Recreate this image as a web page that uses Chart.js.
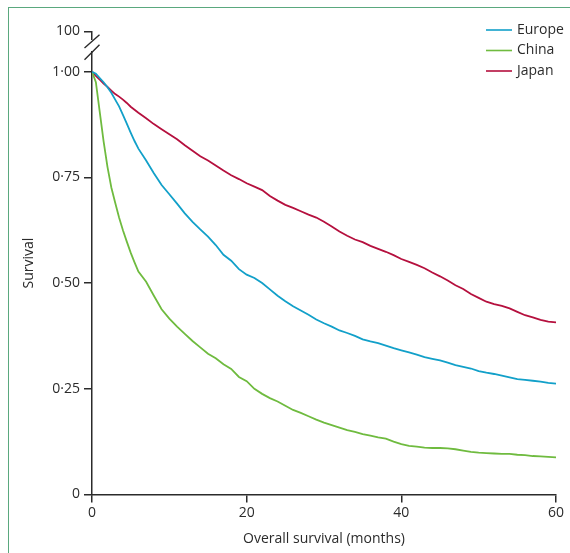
<!DOCTYPE html>
<html>
<head>
<meta charset="utf-8">
<script src="https://cdn.jsdelivr.net/npm/chart.js@4/dist/chart.umd.min.js"></script>
<style>
  html, body { margin: 0; padding: 0; background: #fff; }
  #wrap { position: relative; width: 570px; height: 553px; overflow: hidden; }
  #frameTop { position: absolute; left: 8px; top: 7px; width: 562px; height: 1px; background: #5aa87e; }
  #frameLeft { position: absolute; left: 8px; top: 7px; width: 1px; height: 546px; background: #5aa87e; }
  canvas { position: absolute; left: 0; top: 0; }
</style>
</head>
<body>
<div id="wrap">
  <canvas id="c" width="570" height="553"></canvas>
  <div id="frameTop"></div>
  <div id="frameLeft"></div>
</div>
<script>
// ---- data ----
const months = [0, 0.5, 1, 1.5, 2, 2.5, 3, 3.5, 4, 4.5, 5, 5.5, 6,
  7, 8, 9, 10, 11, 12, 13, 14, 15, 16, 17, 18, 19, 20,
  21, 22, 23, 24, 25, 26, 27, 28, 29, 30, 31, 32, 33, 34, 35, 36, 37, 38, 39, 40,
  41, 42, 43, 44, 45, 46, 47, 48, 49, 50, 51, 52, 53, 54, 55, 56, 57, 58, 59, 60];

const europe = [1, 0.995, 0.985, 0.975, 0.963, 0.95, 0.934, 0.918, 0.898, 0.877, 0.856, 0.836, 0.818,
  0.79, 0.76, 0.732, 0.71, 0.688, 0.665, 0.645, 0.627, 0.61, 0.59, 0.567, 0.553, 0.533, 0.52,
  0.512, 0.5, 0.485, 0.47, 0.457, 0.445, 0.435, 0.425, 0.414, 0.405, 0.397, 0.388, 0.382, 0.375, 0.367, 0.362, 0.358, 0.352, 0.346, 0.341,
  0.336, 0.331, 0.325, 0.321, 0.317, 0.312, 0.306, 0.302, 0.298, 0.292, 0.288, 0.285, 0.281, 0.277, 0.273, 0.271, 0.269, 0.267, 0.264, 0.262];

const china = [1, 0.975, 0.905, 0.835, 0.775, 0.726, 0.69, 0.655, 0.625, 0.598, 0.572, 0.549, 0.527,
  0.503, 0.47, 0.438, 0.416, 0.397, 0.38, 0.363, 0.348, 0.333, 0.322, 0.308, 0.297, 0.278, 0.268,
  0.25, 0.238, 0.228, 0.22, 0.21, 0.2, 0.193, 0.185, 0.177, 0.17, 0.164, 0.158, 0.152, 0.148, 0.143, 0.139, 0.135, 0.132, 0.125, 0.119,
  0.115, 0.113, 0.111, 0.11, 0.11, 0.109, 0.107, 0.104, 0.101, 0.099, 0.098, 0.097, 0.096, 0.096, 0.094, 0.093, 0.091, 0.09, 0.089, 0.088];

const japan = [1, 0.99, 0.981, 0.972, 0.964, 0.955, 0.947, 0.941, 0.934, 0.926, 0.917, 0.91, 0.903,
  0.89, 0.876, 0.864, 0.852, 0.84, 0.826, 0.813, 0.8, 0.79, 0.778, 0.766, 0.755, 0.746, 0.736,
  0.728, 0.72, 0.706, 0.695, 0.685, 0.678, 0.67, 0.662, 0.655, 0.645, 0.634, 0.622, 0.612, 0.603, 0.597, 0.588, 0.581, 0.574, 0.566, 0.557,
  0.55, 0.543, 0.535, 0.525, 0.516, 0.506, 0.495, 0.486, 0.474, 0.465, 0.456, 0.45, 0.446, 0.44, 0.432, 0.424, 0.419, 0.413, 0.409, 0.407];

const seriesNames = ['Europe', 'China', 'Japan'];
const seriesColors = ['#12a0c9', '#6fbb3f', '#b5103e'];
const xTickValues = [0, 20, 40, 60];
const yTickValues = [0, 0.25, 0.5, 0.75, 1, 1.095];   // last one is the "100" above the axis break
const yTickLabels = ['0', '0·25', '0·50', '0·75', '1·00', '100'];
const xTitle = 'Overall survival (months)';
const yTitle = 'Survival';

const FONT = '"Open Sans", "DejaVu Sans", sans-serif';
const INK = '#2b2b2b';
const seriesValues = [europe, china, japan];

const datasets = seriesNames.map((name, s) => ({
  label: name,
  data: months.map((m, i) => ({ x: m, y: seriesValues[s][i] })),
  borderColor: seriesColors[s],
  borderWidth: 1.8,
  pointRadius: 0,
  tension: 0,
  fill: false
}));

const breakPlugin = {
  id: 'axisBreakAndLegend',
  afterDraw(chart) {
    const ctx = chart.ctx;
    const ys = chart.scales.y;
    const x0 = chart.chartArea.left;
    const top = ys.getPixelForValue(yTickValues[yTickValues.length - 1]);
    ctx.save();
    // gap in the axis line
    ctx.fillStyle = '#fff';
    ctx.fillRect(x0 - 3, top + 8.5, 6, 11);
    // two slashes
    ctx.strokeStyle = INK;
    ctx.lineWidth = 1.4;
    ctx.beginPath();
    ctx.moveTo(x0 - 7.5, top + 16.5); ctx.lineTo(x0 + 7.5, top + 3.2);
    ctx.moveTo(x0 - 7.5, top + 28.3); ctx.lineTo(x0 + 7.5, top + 13.2);
    ctx.stroke();
    // legend (top right)
    ctx.font = '14px ' + FONT;
    ctx.textBaseline = 'middle';
    ctx.textAlign = 'left';
    const ly = [30, 50.5, 71];
    seriesNames.forEach((n, i) => {
      ctx.strokeStyle = seriesColors[i];
      ctx.lineWidth = 1.6;
      ctx.beginPath();
      ctx.moveTo(486, ly[i]); ctx.lineTo(512, ly[i]);
      ctx.stroke();
      ctx.fillStyle = INK;
      ctx.fillText(n, 517, ly[i]);
    });
    ctx.restore();
  }
};

new Chart(document.getElementById('c'), {
  type: 'line',
  data: { datasets },
  plugins: [breakPlugin],
  options: {
    responsive: false,
    animation: false,
    devicePixelRatio: 1,
    layout: { padding: { top: 31.5, right: 14, left: 0, bottom: 0 } },
    plugins: { legend: { display: false }, tooltip: { enabled: false } },
    scales: {
      x: {
        type: 'linear',
        min: 0, max: 60,
        afterFit(s) { s.height = 58.5; },
        afterBuildTicks(s) { s.ticks = xTickValues.map(v => ({ value: v })); },
        border: { display: true, color: INK, width: 1.5 },
        grid: { drawOnChartArea: false, drawTicks: true, tickLength: 8, color: INK, lineWidth: 1.5 },
        ticks: { font: { family: FONT, size: 14 }, color: INK, padding: 2, maxRotation: 0 },
        title: { display: true, text: xTitle, font: { family: FONT, size: 14 }, color: INK, padding: { top: 0, bottom: 6 } }
      },
      y: {
        type: 'linear',
        min: 0, max: yTickValues[yTickValues.length - 1],
        afterFit(s) { s.width = 92; },
        afterBuildTicks(s) { s.ticks = yTickValues.map(v => ({ value: v })); },
        border: { display: true, color: INK, width: 1.5 },
        grid: { drawOnChartArea: false, drawTicks: true, tickLength: 8, color: INK, lineWidth: 1.5 },
        ticks: {
          font: { family: FONT, size: 14 }, color: INK, padding: 4, autoSkip: false,
          callback(value, index) { return yTickLabels[index]; }
        },
        title: { display: true, text: yTitle, font: { family: FONT, size: 14 }, color: INK, padding: { top: 21, bottom: 0 } }
      }
    }
  }
});
</script>
</body>
</html>
